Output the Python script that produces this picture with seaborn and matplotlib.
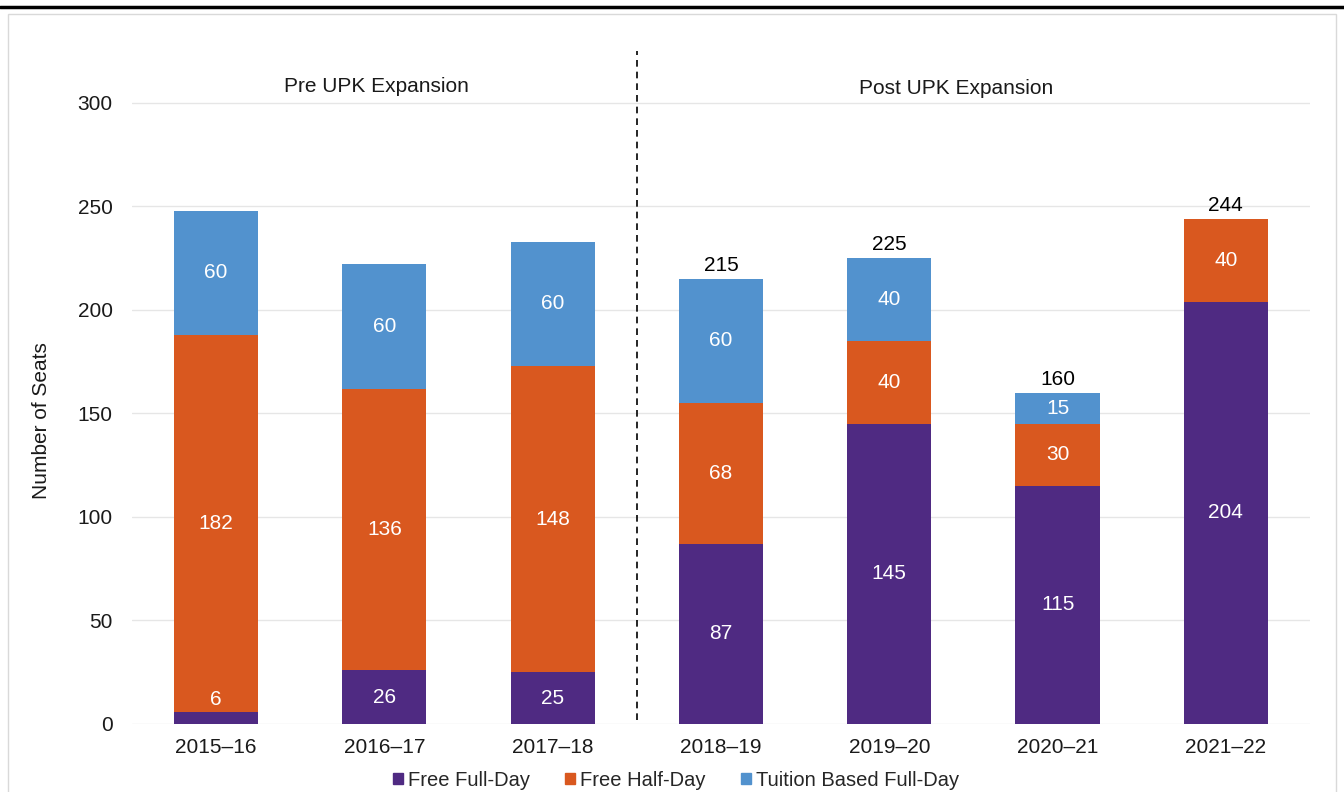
import pandas as pd
import numpy as np
import matplotlib.pyplot as plt
import seaborn as sns
from matplotlib.patches import Rectangle
from matplotlib.lines import Line2D

years = ["2015–16", "2016–17", "2017–18", "2018–19", "2019–20", "2020–21", "2021–22"]
free_full = [6, 26, 25, 87, 145, 115, 204]
free_half = [182, 136, 148, 68, 40, 30, 40]
tuition_full = [60, 60, 60, 60, 40, 15, 0]
series_names = ["Free Full-Day", "Free Half-Day", "Tuition Based Full-Day"]
colors = ["#4F2A82", "#D9581F", "#5292CE"]

df = pd.DataFrame({"year": years, "full": free_full, "half": free_half, "tuition": tuition_full})
df["full_half"] = df["full"] + df["half"]
df["total"] = df["full_half"] + df["tuition"]

sns.set_style("white")
plt.rcParams["font.family"] = ["Liberation Sans", "DejaVu Sans"]
fs = 15

fig = plt.figure(figsize=(13.44, 7.92), dpi=100)
ax = fig.add_axes([0.0982, 0.0859, 0.8765, 0.8636])

# frame around the chart and the black rule on top
fig.patches.append(Rectangle((8 / 1344, -0.05), 1328 / 1344, 1 - 14 / 792 + 0.05,
                             transform=fig.transFigure, fill=False, edgecolor="#d9d9d9", lw=1))
fig.lines.append(Line2D([0, 1], [1 - 7 / 792, 1 - 7 / 792], transform=fig.transFigure,
                        color="black", lw=2.5))

# stacked bars: draw totals first, then overlay lower segments
sns.barplot(data=df, x="year", y="total", color=colors[2], width=0.5, saturation=1, lw=0, ax=ax)
sns.barplot(data=df, x="year", y="full_half", color=colors[1], width=0.5, saturation=1, lw=0, ax=ax)
sns.barplot(data=df, x="year", y="full", color=colors[0], width=0.5, saturation=1, lw=0, ax=ax)

ax.set_xlim(-0.5, 6.5)
ax.set_ylim(0, 330.4)
ax.set_yticks([0, 50, 100, 150, 200, 250, 300])
ax.yaxis.grid(True, color="#e6e6e6", lw=1)
ax.set_axisbelow(True)
for s in ax.spines.values():
    s.set_visible(False)
ax.tick_params(axis="y", length=0, pad=14, labelsize=fs, labelcolor="#1a1a1a")
ax.tick_params(axis="x", length=0, pad=10, labelsize=fs, labelcolor="#1a1a1a")
ax.set_xlabel("")
ax.set_ylabel("Number of Seats", fontsize=fs, color="#1a1a1a")
ax.yaxis.set_label_coords(-0.0688, 0.443)

# segment labels
for i, row in df.iterrows():
    if row["full"] > 0:
        yy = row["full"] / 2 if row["full"] >= 15 else row["full"] + 6
        ax.text(i, yy, str(row["full"]), ha="center", va="center", color="white", fontsize=fs)
    if row["half"] > 0:
        ax.text(i, row["full"] + row["half"] / 2, str(row["half"]), ha="center", va="center",
                color="white", fontsize=fs)
    if row["tuition"] > 0:
        ax.text(i, row["full_half"] + row["tuition"] / 2, str(row["tuition"]), ha="center",
                va="center", color="white", fontsize=fs)
    if i >= 3:
        ax.text(i, row["total"] + 2, str(row["total"]), ha="center", va="bottom",
                color="black", fontsize=fs)

# pre / post divider
ax.plot([2.5, 2.5], [2, 325], color="black", lw=1.2, ls=(0, (4, 3)))
ax.text(0.95, 308, "Pre UPK Expansion", ha="center", va="center", fontsize=fs, color="#1a1a1a")
ax.text(4.4, 307, "Post UPK Expansion", ha="center", va="center", fontsize=fs, color="#1a1a1a")

handles = [Rectangle((0, 0), 1, 1, color=c) for c in colors]
fig.legend(handles, series_names, loc="center", bbox_to_anchor=(0.503, 0.015), ncol=3,
           frameon=False, fontsize=14.5, handlelength=0.5, handleheight=0.5,
           handletextpad=0.25, columnspacing=1.75)

fig.savefig("out.png", dpi=100)
